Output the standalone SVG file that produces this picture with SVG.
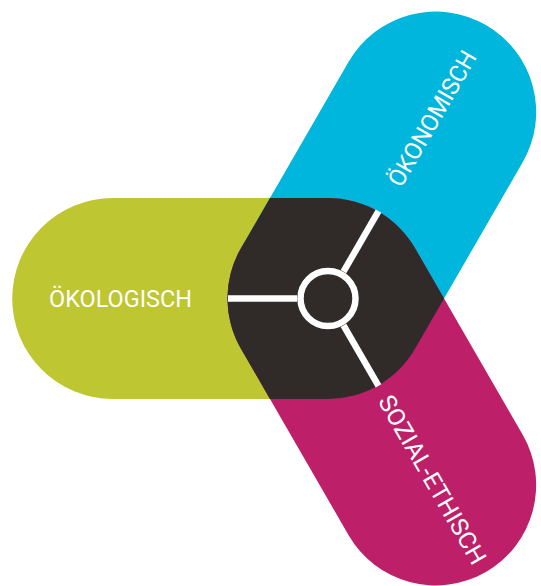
<svg xmlns="http://www.w3.org/2000/svg" width="541" height="586" viewBox="0 0 541 586">
  <style>
    .lbl { font-family: Roboto, "Liberation Sans", Arial, sans-serif; font-size: 24px; fill: #ffffff; text-anchor: middle; }
    .spoke { stroke: #ffffff; stroke-width: 6.5; fill: none; }
  </style>
  <rect width="541" height="586" fill="#ffffff"/>
  <g id="oekologisch">
    <rect x="12.2" y="198" width="416.3" height="201" rx="100.5" fill="#bec631"/>
  </g>
  <g id="oekonomisch">
    <rect x="12.2" y="198" width="416.3" height="201" rx="100.5" fill="#00b6dc" transform="rotate(120 328 298.5)"/>
  </g>
  <g id="sozial-ethisch">
    <rect x="12.2" y="198" width="416.3" height="201" rx="100.5" fill="#be1f69" transform="rotate(-120 328 298.5)"/>
  </g>
  <g id="center">
    <path d="M328 198 A100.5 100.5 0 0 1 415.04 248.25 L444.05 298.5 L415.04 348.75 A100.5 100.5 0 0 1 328 399 L269.97 399 L240.96 348.75 A100.5 100.5 0 0 1 240.96 248.25 L269.97 198 Z" fill="#302b29"/>
  </g>
  <g id="connectors">
    <line class="spoke" x1="297" y1="298.5" x2="228" y2="298.5"/>
    <line class="spoke" x1="343.5" y1="271.7" x2="378.5" y2="211.1"/>
    <line class="spoke" x1="343.5" y1="325.3" x2="378.5" y2="385.9"/>
    <circle class="spoke" cx="328" cy="298.5" r="27.5"/>
  </g>
  <text class="lbl" x="120.5" y="307" textLength="143" lengthAdjust="spacingAndGlyphs">ÖKOLOGISCH</text>
  <text class="lbl" x="536" y="307" textLength="152" lengthAdjust="spacingAndGlyphs" transform="rotate(-60 328 298.5)">ÖKONOMISCH</text>
  <text class="lbl" x="537" y="307" textLength="191" lengthAdjust="spacingAndGlyphs" transform="rotate(60 328 298.5)">SOZIAL-ETHISCH</text>
</svg>
